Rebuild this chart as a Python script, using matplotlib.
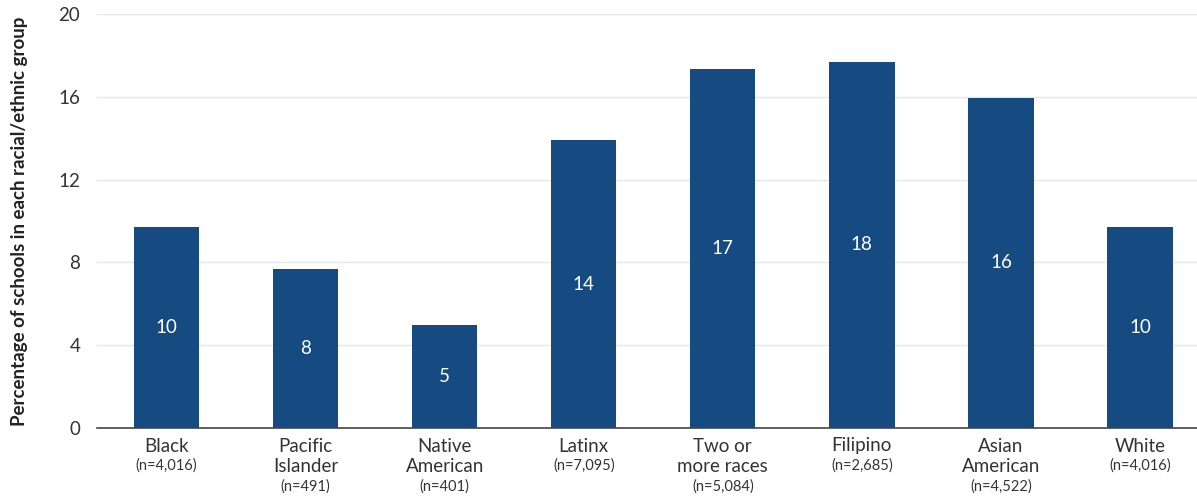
import matplotlib
matplotlib.use("Agg")
import matplotlib.pyplot as plt
from matplotlib.transforms import blended_transform_factory

categories = ["Black", "Pacific\nIslander", "Native\nAmerican", "Latinx",
              "Two or\nmore races", "Filipino", "Asian\nAmerican", "White"]
n_labels = ["(n=4,016)", "(n=491)", "(n=401)", "(n=7,095)",
            "(n=5,084)", "(n=2,685)", "(n=4,522)", "(n=4,016)"]
values = [9.7, 7.7, 5.0, 13.9, 17.35, 17.7, 15.95, 9.7]
value_labels = ["10", "8", "5", "14", "17", "18", "16", "10"]
yticks = [0, 4, 8, 12, 16, 20]

plt.rcParams['font.family'] = ['Lato', 'DejaVu Sans']
W, H = 1197, 497
fig = plt.figure(figsize=(W / 100, H / 100), dpi=100)
ax = fig.add_axes([97 / W, 69 / H, 1 - 97 / W, (428 - 14) / H])

bar_color = "#164b82"
text_color = "#333333"
x = list(range(len(categories)))
ax.bar(x, values, width=0.47, color=bar_color, zorder=3)
for xi, v, lab in zip(x, values, value_labels):
    ax.text(xi, v / 2, lab, ha="center", va="center", color="white",
            fontsize=13.5, zorder=4)

ax.set_xlim(-0.5, 7.41)
ax.set_ylim(0, 20)
ax.set_yticks(yticks)
ax.set_yticklabels([str(t) for t in yticks], fontsize=13.5, color=text_color)
ax.tick_params(axis="y", length=0, pad=12)
ax.tick_params(axis="x", length=0)
ax.set_xticks([])
ax.grid(axis="y", color="#e6e6e6", linewidth=1, zorder=0)
for s in ["top", "right", "left"]:
    ax.spines[s].set_visible(False)
ax.spines["bottom"].set_color("#444444")
ax.spines["bottom"].set_linewidth(1.2)
ax.spines["bottom"].set_zorder(5)

trans = blended_transform_factory(ax.transData, fig.transFigure)
line_px = 21
for xi, cat, nl in zip(x, categories, n_labels):
    lines = cat.split("\n")
    for i, ln in enumerate(lines):
        ypx = 446 + i * line_px
        ax.text(xi, 1 - ypx / H, ln, transform=trans, ha="center", va="center",
                fontsize=13.5, color=text_color)
    ypx = 446 + len(lines) * line_px - 1
    ax.text(xi, 1 - ypx / H, nl, transform=trans, ha="center", va="center",
            fontsize=10.5, color=text_color)

fig.text(20 / W, 1 - 221 / H, "Percentage of schools in each racial/ethnic group",
         rotation=90, ha="center", va="center", fontsize=13.5,
         fontweight="bold", color="#222222")

fig.savefig("out.png", dpi=100, facecolor="white")
